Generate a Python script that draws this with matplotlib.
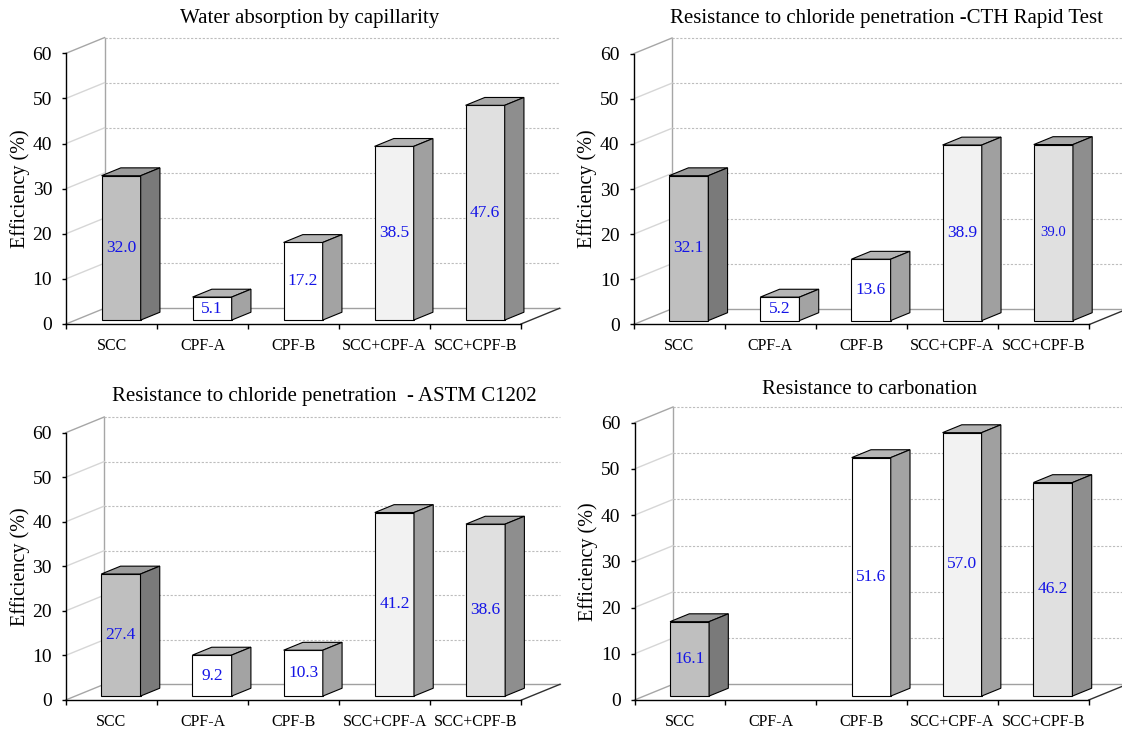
import numpy as np
import matplotlib
matplotlib.use('Agg')
import matplotlib.pyplot as plt
from matplotlib.patches import Polygon

# ---------------- data ----------------
categories = ['SCC', 'CPF-A', 'CPF-B', 'SCC+CPF-A', 'SCC+CPF-B']
titles = ['Water absorption by capillarity',
          'Resistance to chloride penetration -CTH Rapid Test',
          'Resistance to chloride penetration  - ASTM C1202',
          'Resistance to carbonation']
water_absorption = [32.0, 5.1, 17.2, 38.5, 47.6]
chloride_cth = [32.1, 5.2, 13.6, 38.9, 39.0]
chloride_astm = [27.4, 9.2, 10.3, 41.2, 38.6]
carbonation = [16.1, np.nan, 51.6, 57.0, 46.2]
y_ticks = [0, 10, 20, 30, 40, 50, 60]
y_label = 'Efficiency (%)'

series = [water_absorption, chloride_cth, chloride_astm, carbonation]

# ---------------- style ----------------
plt.rcParams['font.family'] = ['Liberation Serif', 'DejaVu Serif']
W, H = 1122, 729
fig = plt.figure(figsize=(W / 100, H / 100), dpi=100)

front_colors = ['#BFBFBF', '#FFFFFF', '#FFFFFF', '#F2F2F2', '#E0E0E0']
side_colors = ['#7A7A7A', '#A3A3A3', '#A3A3A3', '#A0A0A0', '#8E8E8E']
top_colors = ['#9C9C9C', '#B5B5B5', '#B5B5B5', '#B3B3B3', '#A8A8A8']
label_color = '#1414E6'

# panel geometry in pixels: front-left x, y of 0, front-right x, y of 60, title centre
panels = [
    dict(x0=66.0, y0=324.0, xr=521.0, ytop=53.3, title=(310, 19)),
    dict(x0=633.5, y0=324.5, xr=1089.3, ytop=53.7, title=(887, 19)),
    dict(x0=65.7, y0=700.0, xr=521.5, ytop=432.7, title=(324, 397)),
    dict(x0=634.5, y0=700.0, xr=1088.7, ytop=422.7, title=(870, 389)),
]
DEPTH_PX = (38.5, 15.7)
label_size_override = {(1, 4): 10.5}
bw = 0.43

for p, (geo, vals, title) in enumerate(zip(panels, series, titles)):
    ppx = (geo['xr'] - geo['x0']) / 5.0
    ppy = (geo['y0'] - geo['ytop']) / 60.0
    DX = DEPTH_PX[0] / ppx
    DY = DEPTH_PX[1] / ppy
    xmax, ymax = 5 + DX, 60 + DY
    ax = fig.add_axes([geo['x0'] / W, 1 - geo['y0'] / H,
                       xmax * ppx / W, ymax * ppy / H])
    ax.set_xlim(0, xmax)
    ax.set_ylim(0, ymax)
    ax.patch.set_visible(False)

    # spines / ticks
    for s in ['top', 'right']:
        ax.spines[s].set_visible(False)
    ax.spines['left'].set_bounds(0, 60)
    ax.spines['bottom'].set_bounds(0, 5)
    for s in ['left', 'bottom']:
        ax.spines[s].set_linewidth(1.0)
        ax.spines[s].set_color('black')
        ax.spines[s].set_zorder(6)
    ax.set_yticks(y_ticks)
    ax.set_yticklabels([str(t) for t in y_ticks])
    ax.tick_params(axis='y', length=3, width=1, pad=7, labelsize=14)
    ax.set_xticks([i + 0.5 for i in range(len(categories))])
    ax.set_xticklabels(categories)
    ax.set_xticks(range(len(categories) + 1), minor=True)
    ax.tick_params(axis='x', which='major', length=0, pad=10, labelsize=11.5)
    ax.tick_params(axis='x', which='minor', length=3.5, width=1)

    # 3D frame: left wall, back wall, floor
    kw = dict(clip_on=False, zorder=1)
    ax.plot([DX, DX], [DY, 60 + DY], color='#A6A6A6', lw=1.0, **kw)
    for k in y_ticks:
        c = '#A6A6A6' if k in (0, 60) else '#D6D6D6'
        ax.plot([0, DX], [k, k + DY], color=c, lw=1.0, **kw)
    for k in y_ticks[1:]:
        ax.plot([DX, 5 + DX], [k + DY, k + DY], color='#BDBDBD', lw=0.8,
                ls=(0, (2, 1.5)), **kw)
    ax.plot([DX, 5 + DX], [DY, DY], color='#A0A0A0', lw=1.0, **kw)
    ax.plot([5, 5 + DX], [0, DY], color='#303030', lw=1.0, **kw)

    # bars
    b = 0.25 * DY
    dx, dy = 0.5 * DX, 0.5 * DY
    for i, v in enumerate(vals):
        if np.isnan(v):
            continue
        xc = i + 0.5 + 0.25 * DX
        ax.bar(xc, v, width=bw, bottom=b, color=front_colors[i],
               edgecolor='black', linewidth=0.8, zorder=3)
        xl, xrr = xc - bw / 2, xc + bw / 2
        top = Polygon([(xl, b + v), (xrr, b + v), (xrr + dx, b + v + dy),
                       (xl + dx, b + v + dy)], closed=True,
                      facecolor=top_colors[i], edgecolor='black', lw=0.8, zorder=3)
        side = Polygon([(xrr, b), (xrr + dx, b + dy), (xrr + dx, b + v + dy),
                        (xrr, b + v)], closed=True,
                       facecolor=side_colors[i], edgecolor='black', lw=0.8, zorder=3)
        ax.add_patch(top)
        ax.add_patch(side)
        fs = label_size_override.get((p, i), 12.5)
        ax.text(xc, b + v / 2, f'{v:.1f}', color=label_color, ha='center',
                va='center', fontsize=fs, zorder=5)

    # title and y label
    fig.text(geo['title'][0] / W, 1 - geo['title'][1] / H, title,
             ha='center', va='center', fontsize=15)
    fig.text((geo['x0'] - 46) / W, 1 - ((geo['y0'] + geo['ytop']) / 2) / H,
             y_label, rotation=90, ha='center', va='center', fontsize=14.5)

fig.savefig('out.png', dpi=100)
